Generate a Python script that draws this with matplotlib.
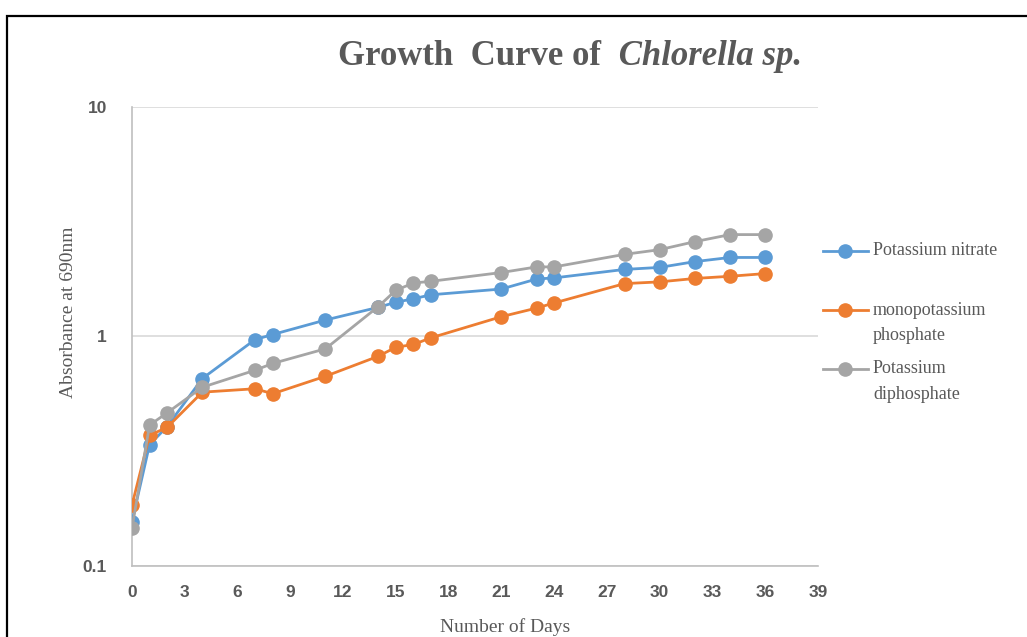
import numpy as np
import matplotlib
matplotlib.use('Agg')
from matplotlib import pyplot as plt
from matplotlib.lines import Line2D
from matplotlib.patches import Rectangle

# days sampled
days = [0, 1, 2, 4, 7, 8, 11, 14, 15, 16, 17, 21, 23, 24, 28, 30, 32, 34, 36]

# absorbance at 690nm (log axis)
potassium_nitrate = [0.156, 0.338, 0.405, 0.656, 0.97, 1.02, 1.18, 1.34, 1.41, 1.46, 1.52,
                     1.61, 1.78, 1.80, 1.96, 2.00, 2.12, 2.21, 2.21]
monopotassium_phosphate = [0.184, 0.371, 0.402, 0.572, 0.592, 0.563, 0.671, 0.82, 0.898, 0.923, 0.987,
                           1.22, 1.33, 1.40, 1.70, 1.73, 1.79, 1.83, 1.88]
potassium_diphosphate = [0.146, 0.411, 0.465, 0.601, 0.713, 0.763, 0.884, 1.35, 1.59, 1.71, 1.74,
                         1.90, 2.01, 2.01, 2.28, 2.39, 2.59, 2.78, 2.78]

series_labels = ['Potassium nitrate', 'monopotassium\nphosphate', 'Potassium\ndiphosphate']
colors = ['#5B9BD5', '#ED7D31', '#A5A5A5']
x_ticks = list(range(0, 40, 3))

serif = ['Liberation Serif', 'DejaVu Serif']
narrow = ['Liberation Sans Narrow', 'Liberation Sans', 'DejaVu Sans']
text_col = '#595959'

fig = plt.figure(figsize=(10.27, 6.37), dpi=100)
ax = fig.add_axes([0.1285, 0.1115, 0.668, 0.7205])

for y, c in zip([potassium_nitrate, monopotassium_phosphate, potassium_diphosphate], colors):
    ax.plot(days, y, color=c, lw=2.0, marker='o', markersize=9.5, zorder=3)

ax.set_yscale('log')
ax.set_ylim(0.1, 10)
ax.set_xlim(0, 39)
ax.set_xticks(x_ticks)
ax.set_xticklabels([str(t) for t in x_ticks])
ax.set_yticks([0.1, 1, 10])
ax.set_yticklabels(['0.1', '1', '10'])
ax.yaxis.set_minor_locator(matplotlib.ticker.NullLocator())
ax.tick_params(length=0, pad=14)
ax.tick_params(axis='y', pad=18)
for lab in ax.get_xticklabels() + ax.get_yticklabels():
    lab.set_family(narrow)
    lab.set_fontweight('bold')
    lab.set_fontsize(12.5)
    lab.set_color(text_col)

ax.grid(axis='y', color='#D9D9D9', lw=1.2)
ax.grid(axis='x', visible=False)
for s in ['top', 'right']:
    ax.spines[s].set_visible(False)
for s in ['left', 'bottom']:
    ax.spines[s].set_color('#BFBFBF')
    ax.spines[s].set_linewidth(1.2)

# title: upright part + italic part
fig.text(0.594, 0.912, 'Growth  Curve of ', family=serif, fontweight='bold',
         fontsize=25, color=text_col, ha='right', va='center')
fig.text(0.594, 0.912, ' Chlorella sp.', family=serif, fontweight='bold', style='italic',
         fontsize=25, color=text_col, ha='left', va='center')

fig.text(0.067, 0.51, 'Absorbance at 690nm', family=serif, fontsize=14, color=text_col,
         rotation=90, ha='center', va='center')
fig.text(0.492, 0.016, 'Number of Days', family=serif, fontsize=14, color=text_col,
         ha='center', va='center')

# legend drawn by hand so the marker sits on the first text line
leg_y = [0.606, 0.513, 0.421]
for yy, lab, c in zip(leg_y, series_labels, colors):
    fig.add_artist(Line2D([0.801, 0.823, 0.845], [yy, yy, yy], color=c, lw=2.0,
                          marker='o', markersize=9.5, markevery=[1], transform=fig.transFigure))
    lines = lab.split('\n')
    fig.text(0.850, yy, lines[0], family=serif, fontsize=13, color=text_col,
             ha='left', va='center')
    if len(lines) > 1:
        fig.text(0.850, yy - 0.040, lines[1], family=serif, fontsize=13, color=text_col,
                 ha='left', va='center')

# outer frame (partly cut off like the screenshot)
fig.add_artist(Rectangle((0.0068, -0.05), 1.1, 1.025, transform=fig.transFigure,
                         fill=False, edgecolor='black', lw=1.6))

fig.savefig('out.png', dpi=100)
